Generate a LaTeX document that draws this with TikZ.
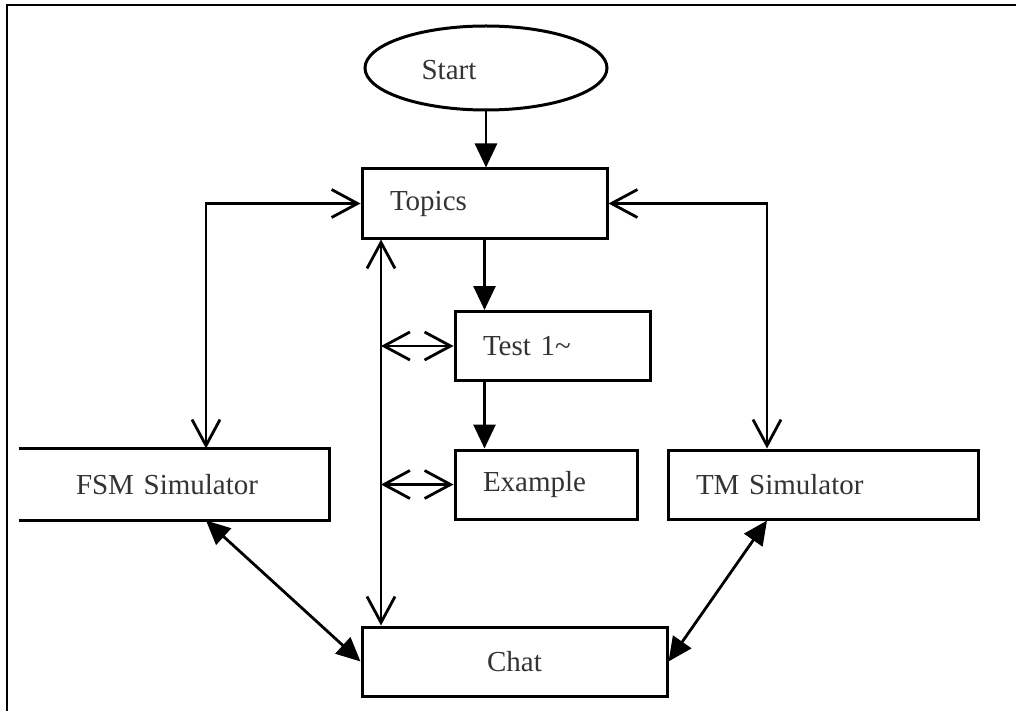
\documentclass[tikz,border=0pt]{standalone}
\usepackage{fontspec}
\setmainfont{Liberation Serif}
\usetikzlibrary{arrows.meta,shapes.geometric,calc}
\tikzset{
  box/.style={draw, line width=3pt, minimum height=69pt, inner xsep=28pt, inner ysep=0pt, align=left, text=black!80, font=\fontsize{29}{34}\selectfont},
  lbl/.style={text=black!80, font=\fontsize{29}{34}\selectfont, inner sep=0pt},
  conn/.style={line width=2.8pt},
  filled/.style={conn, -{Triangle[length=24pt,width=22pt]}},
  filledboth/.style={conn, {Triangle[length=24pt,width=22pt]}-{Triangle[length=24pt,width=22pt]}},
  openboth/.style={conn, {Straight Barb[length=26pt,width=28pt,line width=2.8pt]}-{Straight Barb[length=26pt,width=28pt,line width=2.8pt]}},
}
\begin{document}
\begin{tikzpicture}[x=1pt,y=-1pt]
\useasboundingbox (0,0) rectangle (1016,711);
% frame
\coordinate (f1) at (1016,5);
\coordinate (f2) at (7,5);
\coordinate (f3) at (7,711);
\draw[line width=2pt] (f1) -- (f2) -- (f3);

% nodes
\node[draw, ellipse, line width=3pt, minimum width=242pt, minimum height=84pt, inner sep=0pt] (start) at (486,68) {};
\node[lbl] (starttext) at (449,70) {Start};
\node[box, text width=189pt] (topics) at (484.5,203.5) {Topics};
\node[box, text width=139pt] (test) at (552.5,346) {Test 1\textasciitilde};
\node[box, text width=126pt] (example) at (546,484.5) {Example};
\node[box, text width=254pt] (tm) at (823,484.5) {TM Simulator};
\node[box, draw=none, text width=252pt] (fsm) at (174,484.5) {\hspace*{28pt}FSM Simulator};
\draw[line width=3pt] (fsm.north west) -- (fsm.north east) -- (fsm.south east) -- (fsm.south west);
\node[box, align=center, text width=249pt] (chat) at (514.5,661.5) {Chat};

% helper coordinates
\coordinate (vx) at (381,0);
\coordinate (lx) at (206,0);
\coordinate (rx) at (767,0);

% connectors
\draw[filled] (start.south) -- (start.south |- topics.north);
\draw[filled] (topics.south) -- (topics.south |- test.north);
\draw[filled] (topics.south |- test.south) -- (topics.south |- example.north);

\draw[openboth] (topics.south -| vx) -- (chat.north -| vx);
\draw[openboth] (test.west -| vx) -- (test.west);
\draw[openboth] (example.west -| vx) -- (example.west);

\draw[openboth] (topics.west) -| (fsm.north -| lx);
\draw[openboth] (topics.east) -| (tm.north -| rx);

\draw[filledboth] (fsm.south -| lx) -- (chat.west);
\draw[filledboth] (tm.south -| rx) -- (chat.east);
\end{tikzpicture}
\end{document}
